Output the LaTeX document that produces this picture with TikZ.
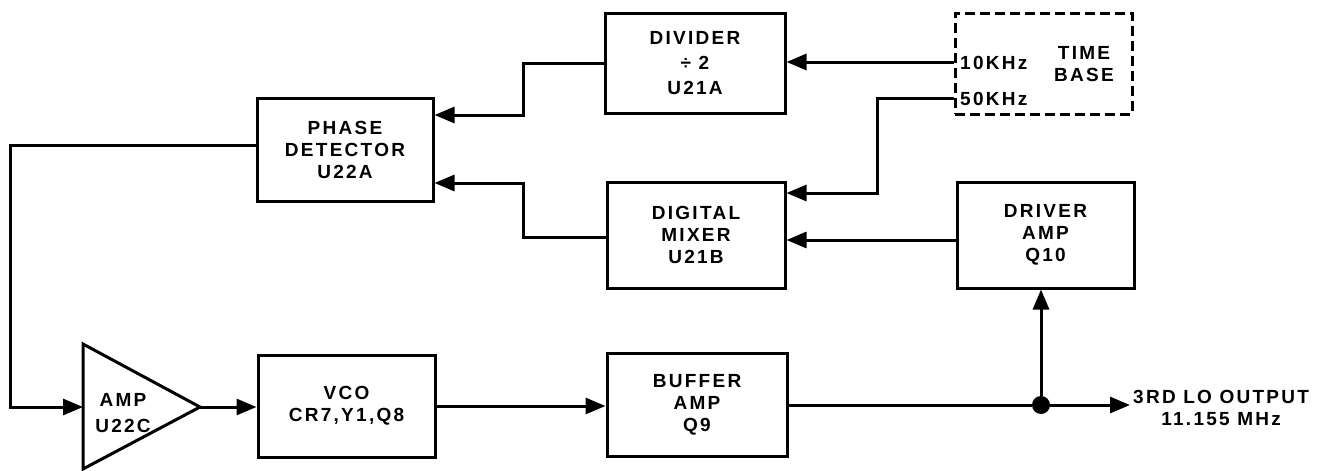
\documentclass[tikz,border=0pt]{standalone}
\usepackage{fontspec}
\setmainfont{Liberation Sans}
\newfontfamily\lettering[LetterSpace=12]{Liberation Sans}
\usetikzlibrary{arrows.meta}
\newcommand\lblfont{\lettering\bfseries\fontsize{19}{22}\selectfont}
\tikzset{
  blk/.style={draw, line width=3pt, rectangle, inner sep=0pt, align=center, font=\lblfont},
  tbbox/.style={draw, line width=3pt, rectangle, inner sep=0pt, dash pattern=on 10pt off 5pt},
  lbl/.style={inner sep=0pt, align=center, font=\lblfont},
  wire/.style={line width=3pt},
  arr/.style={wire, -{Triangle[length=20pt,width=16pt]}},
  dot/.style={circle, fill, inner sep=0pt, minimum size=18pt}
}
\begin{document}
\begin{tikzpicture}[x=1pt,y=-1pt]
\useasboundingbox (0,0) rectangle (1331,471);
% blocks
\node[blk, minimum width=176pt, minimum height=103pt] (pd) at (345,149.5) {PHASE\\DETECTOR\\U22A};
\node[blk, minimum width=180pt, minimum height=100pt] (div) at (695,63) {DIVIDER\\[3pt]÷ 2\\[3pt]U21A};
\node[tbbox, minimum width=177pt, minimum height=101pt] (tb) at (1043.5,63.5) {};
\node[lbl, anchor=west] (f10) at (960,63) {10KHz};
\node[lbl, anchor=west] (f50) at (960,99) {50KHz};
\node[lbl] (tbl) at (1084,64) {TIME\\BASE};
\node[blk, minimum width=178pt, minimum height=106pt] (mix) at (696,235) {DIGITAL\\MIXER\\U21B};
\node[blk, minimum width=177pt, minimum height=106pt] (drv) at (1045.5,235) {DRIVER\\AMP\\Q10};
\node[blk, minimum width=177pt, minimum height=102pt] (vco) at (346.5,406) {VCO\\CR7,Y1,Q8};
\node[blk, minimum width=180pt, minimum height=103pt] (buf) at (697,404.5) {BUFFER\\AMP\\Q9};
% amplifier triangle
\coordinate (ampin) at (83,407);
\coordinate (ampout) at (200,407);
\draw[wire, line join=miter] (83,344) -- (ampout) -- (83,469) -- cycle;
\node[lbl] (amptxt) at (123,413) {AMP\\[4pt]U22C};
% junction and output
\node[dot] (jn) at (1041,405) {};
\node[lbl, anchor=west, inner sep=3pt] (out) at (1130,407.5) {3RD LO OUTPUT\\11.155 MHz};
% helper coordinates
\coordinate (y62) at (0,62);
\coordinate (y98) at (0,98);
\coordinate (b1) at (877,193);
\coordinate (b3) at (523,115);
\coordinate (y237) at (0,237);
\coordinate (b4) at (523,183);
\coordinate (y240) at (0,240);
\coordinate (y145) at (0,145);
\coordinate (b6) at (10,407);
% connectors
\draw[arr] (tb.west |- y62) -- (div.east |- y62);
\draw[arr] (tb.west |- y98) -| (b1) -- (mix.east |- b1);
\draw[arr] (div.west) -| (b3) -- (pd.east |- b3);
\draw[arr] (mix.west |- y237) -| (b4) -- (pd.east |- b4);
\draw[arr] (drv.west |- y240) -- (mix.east |- y240);
\draw[arr] (pd.west |- y145) -| (b6) -- (ampin);
\draw[arr] (ampout) -- (vco.west |- ampout);
\draw[arr] (vco.east) -- (buf.west |- vco.east);
\draw[wire] (buf.east |- jn) -- (jn);
\draw[arr] (jn) -- (jn -| out.west);
\draw[arr] (jn) -- (jn |- drv.south);
\end{tikzpicture}
\end{document}
